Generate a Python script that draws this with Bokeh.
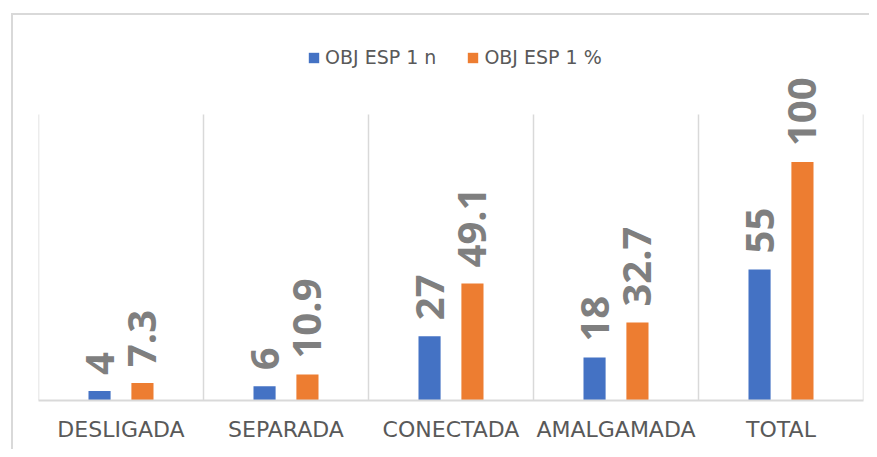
import math
from bokeh.plotting import figure
from bokeh.models import ColumnDataSource, FixedTicker, Legend, LegendItem
from bokeh.transform import dodge
from bokeh.core.properties import value
from bokeh.embed import file_html
from bokeh.resources import INLINE

categories = ["DESLIGADA", "SEPARADA", "CONECTADA", "AMALGAMADA", "TOTAL"]
obj_esp_n = [4, 6, 27, 18, 55]
obj_esp_pct = [7.3, 10.9, 49.1, 32.7, 100]
series_names = ["OBJ ESP 1 n", "OBJ ESP 1 %"]
axis_max = 120  # value-axis maximum of the chart (top of the separators)

BLUE = "#4472C4"
ORANGE = "#ED7D31"
GRID = "#D9D9D9"
TEXT = "#595959"
LABEL = "#7F7F7F"

n = len(categories)
source = ColumnDataSource(data=dict(
    x=list(range(n)),
    cat=categories,
    n=obj_esp_n,
    pct=obj_esp_pct,
    n_lab=[f"{v:g}" for v in obj_esp_n],
    pct_lab=[f"{v:g}" for v in obj_esp_pct],
))
bounds = [i - 0.5 for i in range(n + 1)]
sep = ColumnDataSource(data=dict(x=bounds, y0=[0] * len(bounds), y1=[axis_max] * len(bounds)))

p = figure(width=858, height=436, x_range=(-0.5, n - 0.5), y_range=(0, 161.5),
           output_backend="svg", toolbar_location=None,
           min_border_left=25, min_border_right=8, min_border_top=0, min_border_bottom=51)
p.margin = (13, 0, 0, 11)
p.styles = {"border-top": "2px solid #D9D9D9", "border-left": "2px solid #D9D9D9"}
p.outline_line_color = None
p.background_fill_color = "white"
p.border_fill_color = "white"

p.yaxis.visible = False
p.ygrid.visible = False
p.xgrid.visible = False

p.segment(x0="x", y0="y0", x1="x", y1="y1", source=sep, line_color=GRID, line_width=1.5)

ax = p.xaxis[0]
ax.ticker = FixedTicker(ticks=list(range(n)))
ax.major_label_overrides = {i: c for i, c in enumerate(categories)}
ax.axis_line_color = GRID
ax.axis_line_width = 2
ax.major_tick_line_color = None
ax.minor_tick_line_color = None
ax.major_label_text_color = TEXT
ax.major_label_text_font = "DejaVu Sans"
ax.major_label_text_font_size = "22px"
ax.major_label_standoff = 10

off = 0.13
bw = 0.134
r1 = p.vbar(x=dodge("x", -off), top="n", width=bw, source=source,
            fill_color=BLUE, line_color=None)
r2 = p.vbar(x=dodge("x", off), top="pct", width=bw, source=source,
            fill_color=ORANGE, line_color=None)

for col, lab, d in (("n", "n_lab", -off), ("pct", "pct_lab", off)):
    p.text(x=dodge("x", d), y=col, text=lab, source=source, angle=math.pi / 2,
           text_align="left", text_baseline="middle", y_offset=-16,
           text_font=value("Open Sans"), text_font_style="bold",
           text_font_size="40px", text_color=LABEL)

legend = Legend(items=[LegendItem(label=series_names[0], renderers=[r1]),
                       LegendItem(label=series_names[1], renderers=[r2])],
                orientation="horizontal", location=(269, 332),
                padding=0, margin=0, spacing=30, label_standoff=5,
                glyph_width=13, glyph_height=13,
                label_text_font="DejaVu Sans", label_text_font_size="19px",
                label_text_color=TEXT, border_line_color=None,
                background_fill_alpha=0)
p.add_layout(legend)

open("out.html", "w").write(file_html(p, INLINE))
